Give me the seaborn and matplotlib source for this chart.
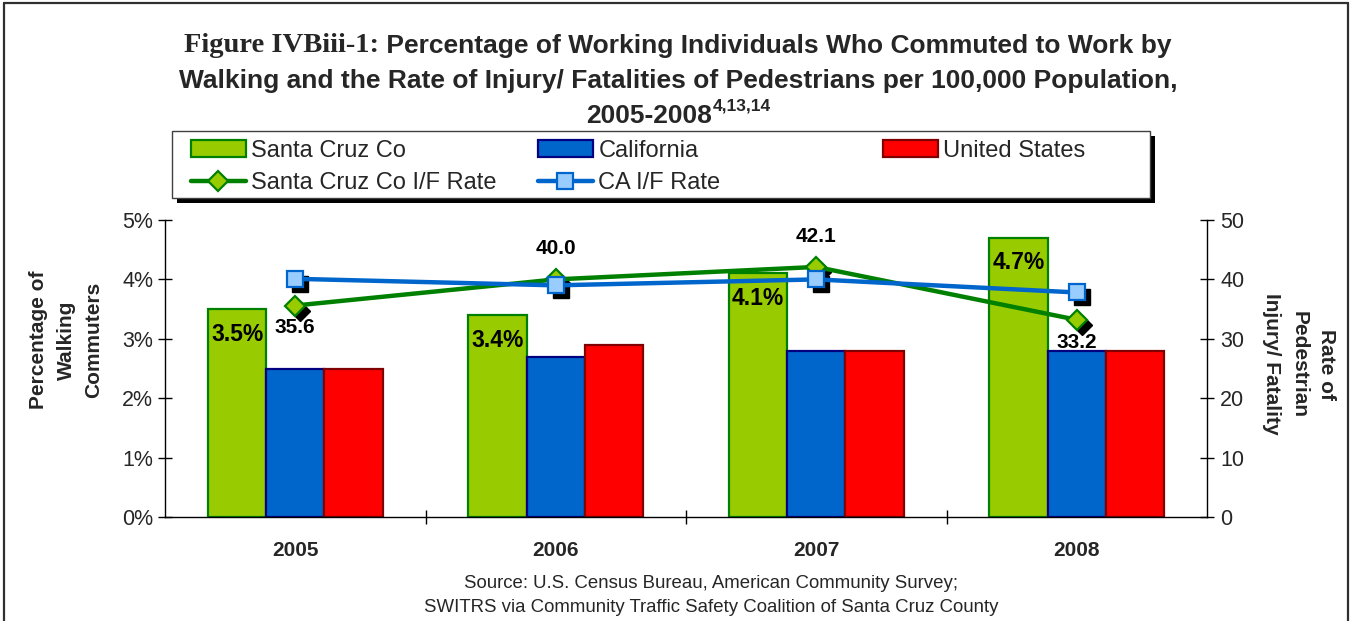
import numpy as np
import pandas as pd
import matplotlib
matplotlib.use("Agg")
import matplotlib.pyplot as plt
import matplotlib.transforms as mtransforms
from matplotlib.patches import Rectangle, Patch
from matplotlib.lines import Line2D
import seaborn as sns

# ---- data -------------------------------------------------------------
years = ["2005", "2006", "2007", "2008"]
regions = ["Santa Cruz Co", "California", "United States"]
santa_cruz_pct = [3.5, 3.4, 4.1, 4.7]
california_pct = [2.5, 2.7, 2.8, 2.8]
us_pct = [2.5, 2.9, 2.8, 2.8]
santa_cruz_rate = [35.6, 40.0, 42.1, 33.2]
ca_rate = [40.1, 39.0, 40.0, 37.8]
pct_ticks = [0, 1, 2, 3, 4, 5]
rate_ticks = [0, 10, 20, 30, 40, 50]

# ---- style ------------------------------------------------------------
sns.set_theme(style="white")
plt.rcParams["font.family"] = ["Liberation Sans", "DejaVu Sans"]

fills = {"Santa Cruz Co": "#99CC00", "California": "#0066CC", "United States": "#FF0000"}
edges = {"Santa Cruz Co": "#008000", "California": "#000080", "United States": "#800000"}

W, H = 1351, 621
fig = plt.figure(figsize=(W / 100, H / 100), dpi=100)
fig.patch.set_facecolor("white")

def fx(px):
    return px / W

def fy(py):
    return 1 - py / H

ax = fig.add_axes([fx(165), fy(517), fx(1207) - fx(165), fy(220) - fy(517)])

df = pd.DataFrame({
    "Year": years * 3,
    "Region": np.repeat(regions, len(years)),
    "Pct": santa_cruz_pct + california_pct + us_pct,
})
sns.barplot(data=df, x="Year", y="Pct", hue="Region", hue_order=regions,
            palette=fills, saturation=1, width=0.67, gap=0, ax=ax,
            legend=False, errorbar=None)
for cont, reg in zip(ax.containers, regions):
    for bar in cont:
        bar.set_edgecolor(edges[reg])
        bar.set_linewidth(1.6)

# value labels inside the Santa Cruz bars
for bar, v in zip(ax.containers[0], santa_cruz_pct):
    ax.annotate(f"{v:.1f}%", (bar.get_x() + bar.get_width() / 2, v),
                xytext=(0, -18), textcoords="offset points",
                ha="center", va="center", fontsize=16.5, fontweight="bold",
                color="black", zorder=6)

ax.set_xlim(-0.5, 3.5)
ax.set_ylim(0, 5)
ax.set_yticks(pct_ticks)
ax.set_yticklabels([f"{t}%" for t in pct_ticks])
ax.set_xlabel("")
ax.set_ylabel("")
ax.set_xticks(range(len(years)))
ax.set_xticklabels(years, fontweight="bold", fontsize=15)
ax.set_xticks([0.5, 1.5, 2.5], minor=True)
ax.tick_params(axis="x", which="major", length=0, pad=17)
ax.tick_params(axis="x", which="minor", direction="inout", length=10, width=1,
               color="black", bottom=True)
ax.tick_params(axis="y", direction="inout", length=10, width=1, color="black",
               left=True, labelsize=15.5, pad=3.5)
for side in ["top", "right"]:
    ax.spines[side].set_visible(False)
for side in ["left", "bottom"]:
    ax.spines[side].set_color("black")
    ax.spines[side].set_linewidth(1)

# ---- secondary axis: injury / fatality rates --------------------------
ax2 = ax.twinx()
xpos = np.arange(len(years))
shadow = ax2.transData + mtransforms.ScaledTranslation(5 / 100, -5 / 100, fig.dpi_scale_trans)
ax2.plot(xpos, santa_cruz_rate, ls="none", marker="D", ms=10, color="black",
         transform=shadow, zorder=1)
ax2.plot(xpos, ca_rate, ls="none", marker="s", ms=12, color="black",
         transform=shadow, zorder=1)
sns.lineplot(x=xpos, y=santa_cruz_rate, ax=ax2, color="#008000", lw=3.2,
             marker="D", ms=10, markerfacecolor="#99CC00",
             markeredgecolor="#008000", markeredgewidth=1.6, zorder=2)
sns.lineplot(x=xpos, y=ca_rate, ax=ax2, color="#0066CC", lw=3.2,
             marker="s", ms=12, markerfacecolor="#99CCFF",
             markeredgecolor="#0066CC", markeredgewidth=1.6, zorder=3)

label_off = [-16, 22, 22, -16]
for x, v, off in zip(xpos, santa_cruz_rate, label_off):
    ax2.annotate(f"{v:.1f}", (x, v), xytext=(0, off), textcoords="offset points",
                 ha="center", va="center", fontsize=15, fontweight="bold",
                 color="black", zorder=6)

ax2.set_xlim(-0.5, 3.5)
ax2.set_ylim(0, 50)
ax2.set_yticks(rate_ticks)
ax2.set_yticklabels([str(t) for t in rate_ticks])
ax2.set_ylabel("")
ax2.tick_params(axis="y", direction="inout", length=10, width=1, color="black",
                right=True, labelsize=15.5, pad=4.5)
for side in ["top", "left", "bottom"]:
    ax2.spines[side].set_visible(False)
ax2.spines["right"].set_color("black")
ax2.spines["right"].set_linewidth(1)

# ---- axis titles ------------------------------------------------------
fig.text(fx(66), fy(340), "Percentage of\nWalking\nCommuters", rotation=90,
         ha="center", va="center", multialignment="center",
         fontsize=15, fontweight="bold", linespacing=1.55)
fig.text(fx(1299), fy(364), "Rate of\nPedestrian\nInjury/ Fatality", rotation=-90,
         ha="center", va="center", multialignment="center",
         fontsize=15, fontweight="bold", linespacing=1.55)

# ---- legend box with drop shadow, three equal columns -----------------
lx0, lx1, ly0, ly1 = 172, 1150, 131, 198
fig.patches.append(Rectangle((fx(lx0 + 5), fy(ly1 + 5)), fx(lx1) - fx(lx0), fy(ly0) - fy(ly1),
                             transform=fig.transFigure, facecolor="black",
                             edgecolor="none", zorder=3))
fig.patches.append(Rectangle((fx(lx0), fy(ly1)), fx(lx1) - fx(lx0), fy(ly0) - fy(ly1),
                             transform=fig.transFigure, facecolor="white",
                             edgecolor="#404040", lw=1, zorder=4))

bar_handles = [Patch(facecolor=fills[r], edgecolor=edges[r], lw=1.6) for r in regions]
sc_line = Line2D([], [], color="#008000", lw=3.2, marker="D", ms=10,
                 markerfacecolor="#99CC00", markeredgecolor="#008000", markeredgewidth=1.6)
ca_line = Line2D([], [], color="#0066CC", lw=3.2, marker="s", ms=12,
                 markerfacecolor="#99CCFF", markeredgecolor="#0066CC", markeredgewidth=1.6)
columns = [
    ([bar_handles[0], sc_line], [regions[0], "Santa Cruz Co I/F Rate"], 186),
    ([bar_handles[1], ca_line], [regions[1], "CA I/F Rate"], 533),
    ([bar_handles[2]], [regions[2]], 878),
]
for hs, ls, xl in columns:
    leg = fig.legend(hs, ls, loc="upper left", bbox_to_anchor=(fx(xl), fy(ly0 + 4)),
                     frameon=False, fontsize=17, handlelength=2.35,
                     handletextpad=0.22, labelspacing=0.45, borderpad=0.2,
                     borderaxespad=0)
    leg.set_zorder(5)

# ---- title ------------------------------------------------------------
renderer = fig.canvas.get_renderer()
t_size = 19
part_a = fig.text(0, fy(46), "Figure IVBiii-1:", fontsize=20.5, fontweight="bold",
                  family=["Liberation Serif", "DejaVu Serif"], ha="left", va="center")
part_b = fig.text(0, fy(46), " Percentage of Working Individuals Who Commuted to Work by",
                  fontsize=t_size, fontweight="bold", ha="left", va="center")
wa = part_a.get_window_extent(renderer).width
wb = part_b.get_window_extent(renderer).width
start = 678 - (wa + wb) / 2
part_a.set_x(fx(start))
part_b.set_x(fx(start + wa))

fig.text(fx(678), fy(81),
         "Walking and the Rate of Injury/ Fatalities of Pedestrians per 100,000 Population,",
         fontsize=t_size, fontweight="bold", ha="center", va="center")

main3 = fig.text(0, fy(116), "2005-2008", fontsize=t_size, fontweight="bold",
                 ha="left", va="center")
sup3 = fig.text(0, fy(106), "4,13,14", fontsize=12.5, fontweight="bold",
                ha="left", va="center")
w3 = main3.get_window_extent(renderer).width
ws = sup3.get_window_extent(renderer).width
s3 = 678 - (w3 + ws) / 2
main3.set_x(fx(s3))
sup3.set_x(fx(s3 + w3 + 1))

# ---- source note ------------------------------------------------------
fig.text(fx(711), fy(584), "Source: U.S. Census Bureau, American Community Survey;",
         fontsize=13.4, ha="center", va="center")
fig.text(fx(711), fy(608), "SWITRS via Community Traffic Safety Coalition of Santa Cruz County",
         fontsize=13.4, ha="center", va="center")

# ---- outer frame (left, top, right) -----------------------------------
frame_kw = dict(transform=fig.transFigure, color="#303030", lw=1.6, zorder=10)
fig.lines.append(Line2D([fx(4), fx(4)], [0, fy(3)], **frame_kw))
fig.lines.append(Line2D([fx(4), fx(1348)], [fy(3), fy(3)], **frame_kw))
fig.lines.append(Line2D([fx(1348), fx(1348)], [0, fy(3)], **frame_kw))

fig.savefig("out.png", dpi=100, facecolor="white")
